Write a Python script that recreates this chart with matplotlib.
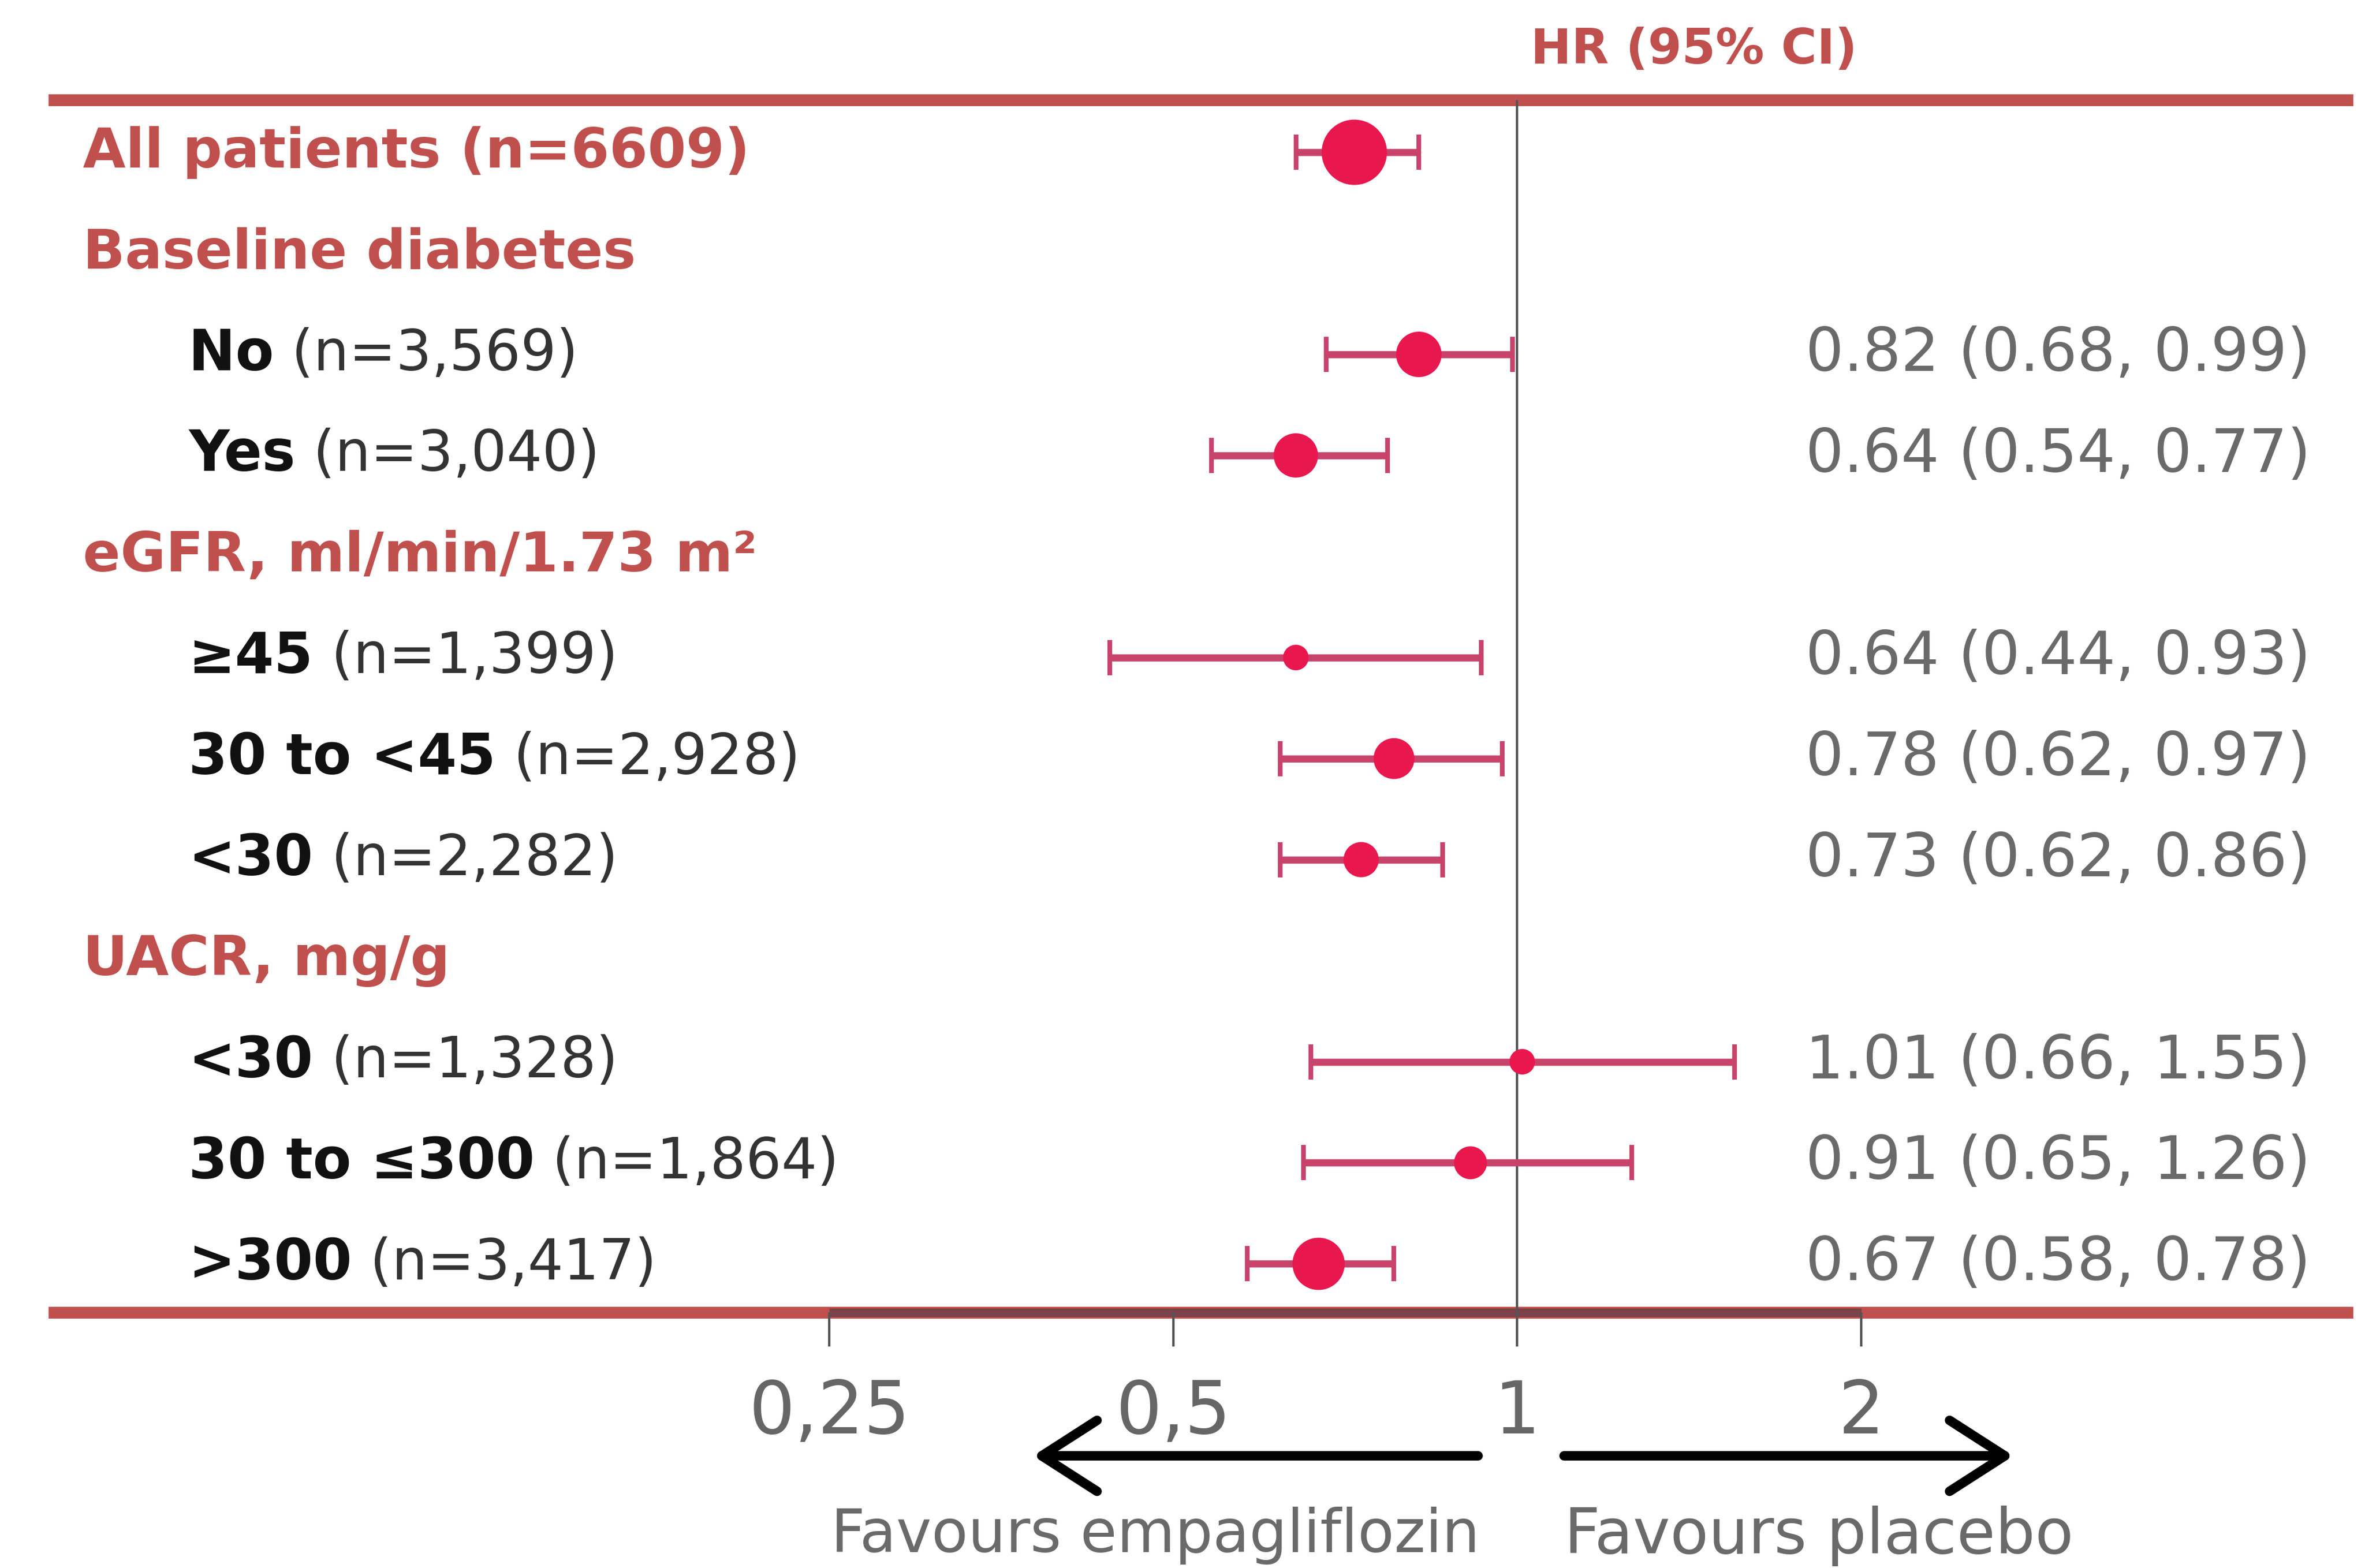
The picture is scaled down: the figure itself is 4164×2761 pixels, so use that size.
import matplotlib
matplotlib.use("Agg")
import matplotlib.pyplot as plt
import numpy as np

# ---------------- data ----------------
row_bold = ["All patients (n=6609)", "Baseline diabetes", "No", "Yes",
            "eGFR, ml/min/1.73 m²", "≥45", "30 to <45", "<30",
            "UACR, mg/g", "<30", "30 to ≤300", ">300"]
row_normal = ["", "", " (n=3,569)", " (n=3,040)", "", " (n=1,399)", " (n=2,928)",
              " (n=2,282)", "", " (n=1,328)", " (n=1,864)", " (n=3,417)"]
is_header = [True, True, False, False, True, False, False, False, True, False, False, False]
hr = [0.72, np.nan, 0.82, 0.64, np.nan, 0.64, 0.78, 0.73, np.nan, 1.01, 0.91, 0.67]
lo = [0.64, np.nan, 0.68, 0.54, np.nan, 0.44, 0.62, 0.62, np.nan, 0.66, 0.65, 0.58]
hi = [0.82, np.nan, 0.99, 0.77, np.nan, 0.93, 0.97, 0.86, np.nan, 1.55, 1.26, 0.78]
ci_text = ["", "", "0.82 (0.68, 0.99)", "0.64 (0.54, 0.77)", "", "0.64 (0.44, 0.93)",
           "0.78 (0.62, 0.97)", "0.73 (0.62, 0.86)", "", "1.01 (0.66, 1.55)",
           "0.91 (0.65, 1.26)", "0.67 (0.58, 0.78)"]
marker_px = [115, 0, 80, 78, 0, 45, 72, 62, 0, 45, 58, 92]
tick_values = [0.25, 0.5, 1, 2]
tick_labels = ["0,25", "0,5", "1", "2"]
title_text = "HR (95% CI)"
left_note = "Favours empagliflozin"
right_note = "Favours placebo"

# ---------------- style ----------------
W, H, DPI = 4164, 2761, 100
RED = "#C0504D"
MARK = "#E8184F"
CICOL = "#C8436C"
GREY = "#6A6A6A"
FONT = "DejaVu Sans"

fig = plt.figure(figsize=(W / DPI, H / DPI), dpi=DPI)
fig.patch.set_facecolor("white")
ax = fig.add_axes([0, 0, 1, 1])
ax.set_xscale("log", base=2)
ax.set_xlim(2 ** -4.412, 2 ** 2.465)
ax.set_ylim(14.01, -1.507)
ax.axis("off")

n = len(row_bold)
ys = np.arange(n)
top_y, bot_y = -0.52, 11.48

# horizontal rule lines
ax.axhline(top_y, xmin=0.0204, xmax=0.995, color=RED, lw=15, solid_capstyle="butt", zorder=2)
ax.axhline(bot_y, xmin=0.0204, xmax=0.995, color=RED, lw=15, solid_capstyle="butt", zorder=2)
ax.hlines(bot_y, tick_values[0], tick_values[-1], color="#7A4249", lw=11, zorder=3)

# reference line and ticks
ax.vlines(1, top_y, bot_y + 0.34, color="#555555", lw=3, zorder=4)
ax.vlines(tick_values, bot_y, bot_y + 0.34, color="#555555", lw=3, zorder=4)

# CIs and markers
hr_a, lo_a, hi_a = np.array(hr), np.array(lo), np.array(hi)
ok = ~np.isnan(hr_a)
ax.errorbar(hr_a[ok], ys[ok], xerr=[hr_a[ok] - lo_a[ok], hi_a[ok] - hr_a[ok]],
            fmt="none", ecolor=CICOL, elinewidth=9, capsize=22, capthick=6, zorder=5)
ax.scatter(hr_a[ok], ys[ok], s=(np.array(marker_px)[ok] * 0.72) ** 2,
           color=MARK, edgecolors="none", zorder=6)

# texts
tx = ax.get_yaxis_transform()  # x axes-fraction, y data
headers, subs_b, subs_n, rights = [], [], [], []
for i in range(n):
    if is_header[i]:
        t = ax.text(0.0351, ys[i], row_bold[i], transform=tx, ha="left", va="center",
                    fontsize=60, fontweight="bold", color=RED, family=FONT)
        headers.append(t)
    else:
        t1 = ax.text(0.0797, ys[i], row_bold[i], transform=tx, ha="left", va="center",
                     fontsize=60, fontweight="bold", color="#111111", family=FONT)
        t2 = ax.annotate(row_normal[i], xy=(1, 0.5), xycoords=t1, ha="left", va="center",
                         fontsize=60, color="#333333", family=FONT)
        subs_b.append(t1)
        subs_n.append(t2)
    if ci_text[i]:
        t = ax.text(0.7634, ys[i], ci_text[i], transform=tx, ha="left", va="center",
                    fontsize=60, color=GREY, family=FONT)
        rights.append(t)

title = ax.text(2 ** 0.513, -1.012, title_text, ha="center", va="center",
                fontsize=50, fontweight="bold", color=RED, family=FONT)
ticks = [ax.text(v, 12.48, s, ha="center", va="center", fontsize=60, color="#666666", family=FONT)
         for v, s in zip(tick_values, tick_labels)]
fav_l = ax.text(2 ** -1.053, 13.69, left_note, ha="center", va="center", fontsize=50,
                color=GREY, family=FONT)
fav_r = ax.text(2 ** 0.877, 13.69, right_note, ha="center", va="center", fontsize=50,
                color=GREY, family=FONT)

# arrows
arrow_kw = dict(arrowstyle="->,head_length=0.7,head_width=0.45", lw=12, color="black",
                shrinkA=0, shrinkB=0, mutation_scale=100)
ax.annotate("", xy=(2 ** -1.408, 12.90), xytext=(2 ** -0.114, 12.90), arrowprops=arrow_kw)
ax.annotate("", xy=(2 ** 1.443, 12.90), xytext=(2 ** 0.136, 12.90), arrowprops=arrow_kw)

# ---------- fit font sizes to the reference widths ----------
def fit(group, ref_artists, target_px):
    fig.canvas.draw()
    r = fig.canvas.get_renderer()
    bbs = [a.get_window_extent(r) for a in ref_artists]
    w = max(b.x1 for b in bbs) - min(b.x0 for b in bbs)
    k = target_px / w
    for a in group:
        a.set_fontsize(a.get_fontsize() * k)

fit(headers, [headers[0]], 1176)
sub_rows = [k for k in range(n) if not is_header[k]]
j = sub_rows.index(10)
fit(subs_b + subs_n, [subs_b[j], subs_n[j]], 1147)
fit(rights, [rights[0]], 890)
fit([title], [title], 576)
fit(ticks, [ticks[0]], 284)
fit([fav_l], [fav_l], 1145)
fit([fav_r], [fav_r], 898)

fig.savefig("out.png", dpi=DPI, facecolor="white")
